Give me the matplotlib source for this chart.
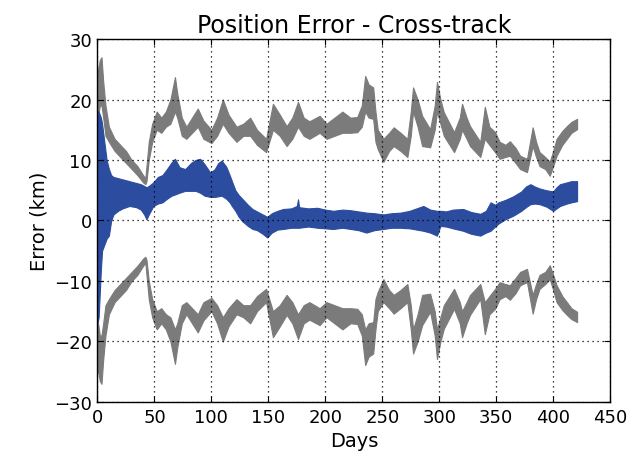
import matplotlib
matplotlib.use("Agg")
import matplotlib.pyplot as plt
import numpy as np

# cross-track error band (upper / lower edge of the oscillating estimate), km
err_days = [0, 1, 2, 3, 4, 6, 8, 10, 12, 14, 18, 22, 28, 34, 38, 41, 43, 45,
            49, 53, 57, 61, 65, 68, 72, 77, 82, 86, 90, 94, 99, 103, 106, 109,
            113, 116, 118, 121, 124, 127, 132, 136, 140, 145, 149, 153, 158,
            163, 170, 175, 176, 177, 185, 193, 200, 207, 215, 222, 229, 236,
            243, 251, 258, 266, 274, 280, 286, 292, 298, 301, 306, 312, 321,
            328, 336, 341, 345, 349, 352, 358, 365, 372, 376, 380, 384, 388,
            394, 400, 403, 406, 412, 416, 421]
err_hi = [18, 18, 17.5, 17, 16, 13, 10, 8.5, 7.5, 7.2, 7, 6.8, 6.5, 6.2, 6,
          5.7, 5.5, 5.7, 6.3, 7.2, 7.5, 8.5, 9.6, 10.2, 8.8, 8.5, 9.5, 10.0,
          10.2, 9.3, 7.9, 8.5, 9.5, 9.9, 8.9, 7.5, 6.5, 5.0, 4.2, 3.6, 2.6,
          1.9, 1.5, 1.0, 0.6, 1.2, 1.6, 1.9, 2.0, 2.4, 3.5, 2.2, 2.0, 2.1,
          1.8, 1.6, 1.8, 1.7, 1.5, 1.3, 1.2, 1.0, 1.2, 1.3, 1.6, 2.0, 2.4,
          1.8, 1.6, 1.6, 1.5, 1.8, 1.9, 1.4, 1.1, 1.6, 3.0, 2.6, 3.0, 3.4,
          4.0, 4.8, 5.6, 6.0, 5.6, 5.3, 5.0, 4.8, 5.5, 6.0, 6.3, 6.5, 6.5]
err_lo = [-17, -16, -12, -8, -5, -4, -3, -2.5, 0, 1.0, 1.6, 2.0, 2.4, 2.2,
          1.8, 1.0, 0.2, 1.0, 2.4, 2.8, 3.0, 3.6, 4.1, 4.3, 4.6, 4.9, 4.9,
          4.9, 4.6, 4.1, 3.9, 3.9, 4.0, 4.1, 3.6, 3.0, 2.4, 1.6, 0.6, -0.1,
          -0.9, -1.4, -1.6, -2.2, -2.8, -2.0, -1.5, -1.4, -1.2, -1.2, -1.2,
          -1.2, -1.0, -1.2, -1.3, -1.4, -1.2, -1.4, -1.6, -2.0, -1.6, -1.4,
          -1.2, -1.2, -1.3, -1.5, -1.7, -2.0, -2.5, -0.9, -1.0, -1.3, -1.7,
          -2.2, -2.5, -2.0, -1.7, -1.0, -0.5, 0.2, 0.8, 1.6, 2.2, 2.7, 2.8,
          2.7, 2.3, 1.6, 2.0, 2.4, 2.8, 3.0, 3.2]

# 3-sigma envelope (positive side); the negative side mirrors it
sig_days = [0.5, 2, 3.5, 5, 7, 10, 15, 20, 25, 30, 35, 40, 42, 43, 45, 48,
            52, 56, 60, 64, 68, 70, 74, 78, 83, 88, 93, 100, 105, 110, 115,
            122, 128, 134, 140, 148, 154, 160, 166, 171, 176, 181, 186, 195,
            201, 208, 215, 222, 228, 232, 235, 238, 242, 244, 246, 251, 256,
            260, 266, 272, 275, 277, 281, 285, 292, 296, 298, 301, 304, 313,
            318, 320, 324, 327, 336, 340, 344, 349, 353, 358, 362, 367, 371,
            377, 382, 385, 388, 393, 397, 400, 403, 408, 412, 416, 421]
sig_hi = [25, 26.5, 27, 23, 19, 15.5, 13.5, 12.5, 11.5, 10, 9, 7.5, 7.0, 9,
          13, 16, 18, 17, 18, 20, 23.7, 21, 17, 15.5, 17, 18.5, 16.5, 15, 17,
          20, 17.5, 15.5, 16, 17, 15, 13.5, 19.3, 17.5, 15.6, 17, 19.6, 17,
          16.4, 17.3, 16, 17, 18, 17, 17.1, 19, 23.9, 22.5, 22, 18, 15, 13.5,
          14.5, 15.4, 14.5, 13.5, 18, 22, 20, 17.3, 15.1, 19, 22.9, 20, 17.9,
          14.6, 17, 19.3, 17, 15.6, 13, 18.8, 15.5, 14.6, 13, 12.5, 13.1, 12,
          10.7, 10.2, 15.4, 13, 11.3, 10.5, 9.7, 11.5, 13.5, 14.8, 15.6,
          16.3, 16.8]
sig_lo = [17, 19, 19, 17, 14, 13, 11.5, 10.5, 9.5, 8.5, 7.5, 6.3, 6.0, 6.5,
          10, 13, 15, 14.5, 15.5, 16, 18, 17, 14, 13.5, 14.5, 15.5, 13.5,
          12.8, 14, 16, 14.5, 13, 14, 14, 12.5, 11.3, 15, 14, 12.3, 13.5,
          15.5, 14, 13.5, 14.5, 13.5, 14, 14.5, 14.5, 14.6, 15.5, 18, 17,
          16.8, 13, 11.8, 9.7, 11.5, 12.3, 11.5, 10.5, 14, 18, 15.5, 12.3,
          12.1, 15, 18, 16, 14, 11.3, 13.5, 15, 13.5, 12.3, 10.5, 13.5, 12.5,
          11.3, 10.2, 10.5, 10.7, 9.5, 8.5, 8, 12.3, 10.5, 9, 8.5, 7.4, 9,
          10.7, 12.5, 13.5, 14.5, 15.1]

blue = "#2b4c9f"
grey = "#7b7b7b"

fig = plt.figure(figsize=(6.29, 4.6), dpi=100)
ax = fig.add_axes([0.155, 0.124, 0.815, 0.789])

sig_hi_a = np.array(sig_hi)
sig_lo_a = np.array(sig_lo)

# plus / minus 3 sigma
ax.fill_between(sig_days, sig_lo_a, sig_hi_a, color=grey, linewidth=0.8)
ax.fill_between(sig_days, -sig_hi_a, -sig_lo_a, color=grey, linewidth=0.8)

# error
ax.fill_between(err_days, err_lo, err_hi, color=blue, linewidth=0.8)

ax.set_xlim(0, 450)
ax.set_ylim(-30, 30)
ax.set_xticks(np.arange(0, 451, 50))
ax.set_yticks(np.arange(-30, 31, 10))

# sparse dotted grid on top of the data
ax.grid(True, linestyle=(0, (1, 3)), color="black", linewidth=0.9)
ax.set_axisbelow(False)
ax.tick_params(direction="in", top=True, right=True, labelsize=13,
               length=4, pad=4)
for spine in ax.spines.values():
    spine.set_linewidth(1.0)

ax.set_title("Position Error - Cross-track", fontsize=17, pad=5)
ax.set_xlabel("Days", fontsize=14)
ax.set_ylabel("Error (km)", fontsize=14)

fig.savefig("out.png", dpi=100)
